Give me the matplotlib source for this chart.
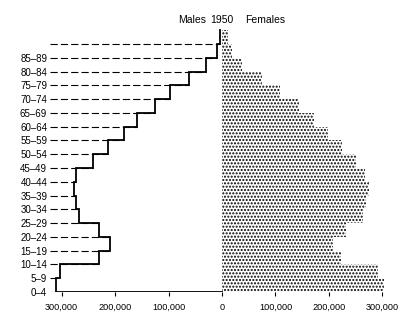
import numpy as np
import matplotlib
matplotlib.use("Agg")
import matplotlib.pyplot as plt

# age groups, bottom to top; the top band (90+) has no label
age_labels = ["0\u20134", "5\u20139", "10\u201314", "15\u201319", "20\u201324", "25\u201329",
              "30\u201334", "35\u201339", "40\u201344", "45\u201349", "50\u201354", "55\u201359",
              "60\u201364", "65\u201369", "70\u201374", "75\u201379", "80\u201384", "85\u201389", ""]

# population 1950
males = [310000, 303000, 230000, 210000, 230000, 268000, 273000, 277000, 273000, 242000,
         214000, 184000, 158000, 126000, 97000, 61000, 30000, 9000, 4000]
females = [302000, 292000, 223000, 208000, 232000, 264000, 270000, 274000, 268000, 251000,
           225000, 198000, 172000, 143000, 109000, 75000, 38000, 19000, 11000]

x_ticks = [-300000, -200000, -100000, 0, 100000, 200000, 300000]

plt.rcParams['font.family'] = ['Liberation Sans', 'DejaVu Sans']
plt.rcParams['hatch.linewidth'] = 1.0

fig = plt.figure(figsize=(4.06, 3.29), dpi=100)
ax = fig.add_axes([0.1232, 0.1125, 0.8571, 0.804])
x_left = -321500
ax.set_xlim(x_left, 329000)
ax.set_ylim(0, 19.2)

n = len(males)
y = np.arange(n)

# females: stippled bars
ax.barh(y, females, height=1.0, left=0, align='edge', color='white',
        edgecolor='black', linewidth=0, hatch='.....')

# males: dashed lines from the labels to the outline
m = np.array(males)
ends = [-m[0]] + [-min(m[k - 1], m[k]) for k in range(1, n)]
ax.hlines(y, x_left, ends, colors='black', linewidth=0.8,
          linestyles=(0, (6.5, 2.8)))

# males: solid step outline
xs = [0, -m[0]]
ys = [0, 0]
for k in range(n):
    xs += [-m[k], -m[k]]
    ys += [k, k + 1]
    if k + 1 < n:
        xs.append(-m[k + 1])
        ys.append(k + 1)
ax.plot(xs, ys, color='black', lw=1.3, solid_joinstyle='miter')

for s in ax.spines.values():
    s.set_visible(False)

ax.set_yticks(y)
ax.set_yticklabels(age_labels, fontsize=7)
ax.tick_params(axis='y', length=0, pad=2)

ax.set_xticks(x_ticks)
ax.set_xticklabels(["{:,}".format(abs(v)) for v in x_ticks], fontsize=6.6)
ax.tick_params(axis='x', length=3, width=0.8, pad=5)

ax.text(-56000, 19.74, "Males", ha='center', va='center', fontsize=7.5)
ax.text(0, 19.74, "1950", ha='center', va='center', fontsize=7.5)
ax.text(80000, 19.74, "Females", ha='center', va='center', fontsize=7.5)

fig.savefig("out.png", dpi=100)
